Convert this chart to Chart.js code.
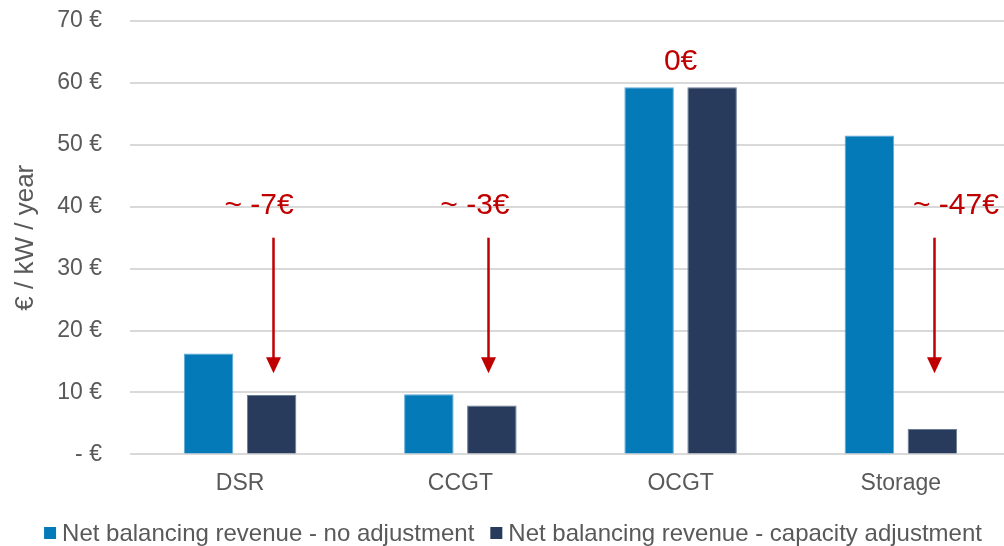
<!DOCTYPE html>
<html>
<head>
<meta charset="utf-8">
<script src="https://cdn.jsdelivr.net/npm/chart.js@4/dist/chart.umd.min.js"></script>
<style>
  html, body { margin: 0; padding: 0; background: #ffffff; overflow: hidden; }
  #wrap { width: 1004px; height: 546px; position: relative; overflow: hidden; }
  #c { position: absolute; left: 0; top: 0; }
</style>
</head>
<body>
<div id="wrap"><canvas id="c" width="1011" height="546"></canvas></div>
<script>
const categories = ['DSR', 'CCGT', 'OCGT', 'Storage'];
const noAdjustment = [16.3, 9.7, 59.3, 51.5];
const capacityAdjustment = [9.6, 7.9, 59.3, 4.1];
const seriesNames = ['Net balancing revenue - no adjustment', 'Net balancing revenue - capacity adjustment'];
const yTicks = [0, 10, 20, 30, 40, 50, 60, 70];
const changeLabels = ['~ -7€', '~ -3€', '0€', '~ -47€'];
const changeLabelValues = [40.2, 40.2, 63.4, 40.2];
const arrowFrom = [35.0, 35.0, null, 35.0];
const arrowTo = [13.1, 13.1, null, 13.1];

const FONT = "'Liberation Sans', Arial, sans-serif";
const RED = '#C00000';
const GREY = '#595959';
const COLORS = ['#047BB8', '#283B5D'];

// horizontal offsets (fraction of category width) for annotation placement
const labelOffsets = [0.086, 0.066, 0.0, 0.25];
const arrowOffsets = [0.149, 0.125, 0, 0.149];

const annotPlugin = {
  id: 'annot',
  afterDatasetsDraw(chart) {
    const ctx = chart.ctx;
    const x = chart.scales.x, y = chart.scales.y;
    const cw = x.getPixelForValue(1) - x.getPixelForValue(0);
    ctx.save();
    ctx.fillStyle = RED;
    ctx.strokeStyle = RED;
    ctx.font = "30px " + FONT;
    ctx.textAlign = 'center';
    ctx.textBaseline = 'middle';
    for (let i = 0; i < categories.length; i++) {
      const lx = x.getPixelForValue(i) + labelOffsets[i] * cw;
      ctx.fillText(changeLabels[i], lx, y.getPixelForValue(changeLabelValues[i]));
      if (arrowFrom[i] !== null) {
        const ax = Math.round(x.getPixelForValue(i) + arrowOffsets[i] * cw) + 0.5;
        const y1 = y.getPixelForValue(arrowFrom[i]);
        const y2 = y.getPixelForValue(arrowTo[i]);
        const head = 16;
        ctx.lineWidth = 2.5;
        ctx.beginPath();
        ctx.moveTo(ax, y1);
        ctx.lineTo(ax, y2 - head + 1);
        ctx.stroke();
        ctx.beginPath();
        ctx.moveTo(ax - 7.5, y2 - head);
        ctx.lineTo(ax + 7.5, y2 - head);
        ctx.lineTo(ax, y2);
        ctx.closePath();
        ctx.fill();
      }
    }
    ctx.restore();
  }
};

const legendPlugin = {
  id: 'customLegend',
  afterDraw(chart) {
    const ctx = chart.ctx;
    const box = 12, gap = 6, itemGap = 16;
    ctx.save();
    ctx.font = "24px " + FONT;
    ctx.textBaseline = 'alphabetic';
    ctx.textAlign = 'left';
    const items = chart.data.datasets.map(d => ({ text: d.label, color: d.backgroundColor, w: ctx.measureText(d.label).width }));
    let total = 0;
    items.forEach((it, i) => { total += box + gap + it.w + (i ? itemGap : 0); });
    let x = 513 - total / 2;
    const base = chart.height - 5;
    items.forEach((it, i) => {
      if (i) x += itemGap;
      ctx.fillStyle = it.color;
      ctx.fillRect(x, base - 2 - box, box, box);
      x += box + gap;
      ctx.fillStyle = GREY;
      ctx.fillText(it.text, x, base);
      x += it.w;
    });
    ctx.restore();
  }
};

new Chart(document.getElementById('c'), {
  type: 'bar',
  data: {
    labels: categories,
    datasets: [
      { label: seriesNames[0], data: noAdjustment, backgroundColor: COLORS[0], borderColor: '#5FA9D6', borderWidth: 1 },
      { label: seriesNames[1], data: capacityAdjustment, backgroundColor: COLORS[1], borderColor: '#6B7C95', borderWidth: 1 }
    ]
  },
  options: {
    responsive: false,
    animation: false,
    devicePixelRatio: 1,
    layout: { padding: { top: 21, right: 0, left: 4, bottom: 42 } },
    datasets: { bar: { categoryPercentage: 0.572, barPercentage: 0.786 } },
    plugins: {
      tooltip: { enabled: false },
      legend: { display: false }
    },
    scales: {
      x: {
        grid: { display: false },
        border: { display: false },
        ticks: { font: { family: FONT, size: 23 }, color: GREY, padding: 7 }
      },
      y: {
        min: 0, max: 70,
        afterBuildTicks(axis) { axis.ticks = yTicks.map(v => ({ value: v })); },
        grid: { color: '#D9D9D9', lineWidth: 2, drawTicks: true, tickLength: 28, tickColor: 'rgba(0,0,0,0)' },
        border: { display: false },
        ticks: {
          font: { family: FONT, size: 23 }, color: GREY, padding: 0,
          callback: v => v === 0 ? '- €' : v + ' €'
        },
        title: { display: true, text: '€ / kW / year', font: { family: FONT, size: 26 }, color: GREY, padding: { top: 6, bottom: 16 } }
      }
    }
  },
  plugins: [annotPlugin, legendPlugin]
});
</script>
</body>
</html>
